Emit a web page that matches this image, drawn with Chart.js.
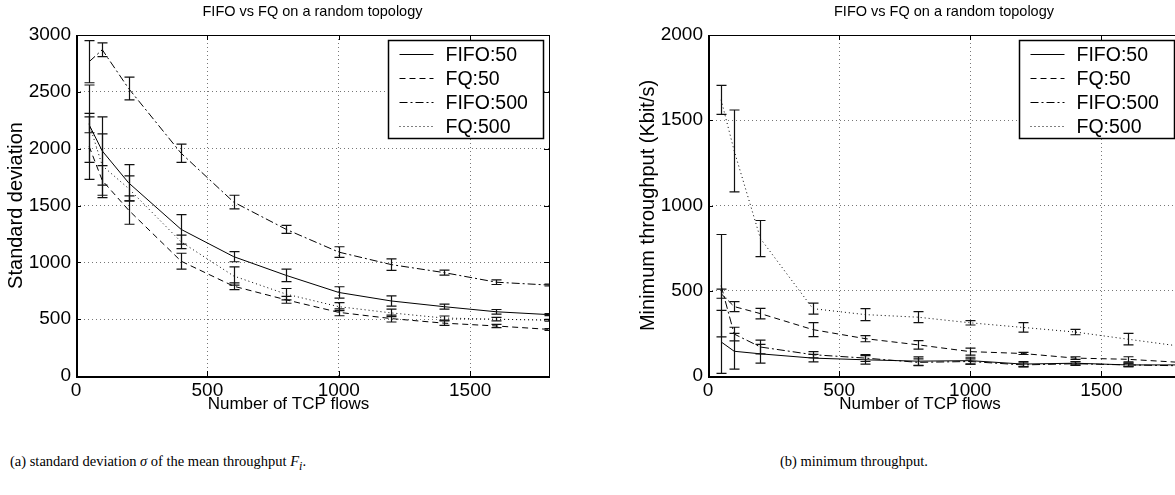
<!DOCTYPE html>
<html>
<head>
<meta charset="utf-8">
<script src="https://cdn.jsdelivr.net/npm/chart.js@4.4.0/dist/chart.umd.min.js"></script>
<style>
html, body { margin: 0; padding: 0; background: #fff; overflow: hidden; }
#wrap { position: relative; width: 1175px; height: 495px; overflow: hidden; }
#left { position: absolute; left: 0; top: 0; }
#right { position: absolute; left: 600px; top: 0; }
.cap { position: absolute; top: 453px; font-family: 'Liberation Serif', serif; font-size: 14.5px; color: #000; white-space: nowrap; }
</style>
</head>
<body>
<div id="wrap">
  <canvas id="left" width="580" height="420"></canvas>
  <canvas id="right" width="620" height="420"></canvas>
  <div class="cap" style="left:10px">(a) standard deviation <i>σ</i> of the mean throughput <i>F<sub>i</sub></i>.</div>
  <div class="cap" style="left:780px">(b) minimum throughput.</div>
</div>
<script>
// number of TCP flows where each run was measured
var flows = [50, 100, 200, 400, 600, 800, 1000, 1200, 1400, 1600, 1800];
var names = ['FIFO:50', 'FQ:50', 'FIFO:500', 'FQ:500'];
var xTicks = [0, 500, 1000, 1500];

// (a) standard deviation of mean throughput, +/- error half-width
var sdFifo50 = [2210, 1980, 1700, 1290, 1050, 885, 735, 660, 610, 565, 540];
var sdFifo50Err = [70, 300, 160, 130, 45, 55, 50, 45, 22, 20, 8];
var sdFq50 = [2020, 1720, 1460, 1010, 790, 670, 560, 505, 465, 440, 410];
var sdFq50Err = [290, 130, 125, 70, 30, 30, 30, 30, 20, 15, 8];
var sdFifo500 = [2765, 2870, 2530, 1960, 1530, 1290, 1090, 980, 910, 825, 800];
var sdFifo500Err = [185, 60, 100, 80, 60, 35, 47, 50, 22, 20, 8];
var sdFq500 = [2220, 1850, 1650, 1180, 880, 720, 610, 555, 510, 500, 490];
var sdFq500Err = [340, 280, 110, 60, 80, 50, 35, 33, 18, 15, 8];
var sdTicks = [0, 500, 1000, 1500, 2000, 2500, 3000];

// (b) minimum throughput in Kbit/s
var minFifo50 = [200, 145, 130, 105, 95, 87, 90, 70, 75, 65, 65];
var minFifo50Err = [185, 105, 55, 22, 25, 25, 20, 15, 10, 10, 5];
var minFq50 = [483, 407, 366, 272, 219, 183, 143, 132, 105, 98, 80];
var minFq50Err = [27, 29, 31, 41, 18, 25, 20, 6, 8, 15, 5];
var minFifo500 = [530, 246, 170, 125, 105, 80, 85, 65, 72, 65, 60];
var minFifo500Err = [300, 40, 40, 18, 20, 20, 15, 12, 10, 10, 5];
var minFq500 = [1620, 1320, 806, 395, 360, 345, 312, 285, 258, 216, 175];
var minFq500Err = [85, 240, 106, 32, 35, 32, 13, 28, 16, 34, 5];
var minTicks = [0, 500, 1000, 1500, 2000];

var dashes = [[], [6, 4], [8, 3, 2, 3], [1, 3]];

Chart.defaults.font.family = '"Liberation Sans", Arial, sans-serif';
Chart.defaults.color = '#000';

function points(vals) {
  return flows.map(function (f, i) { return { x: f, y: vals[i] }; });
}

function makeSets(series, errs) {
  return series.map(function (vals, k) {
    return {
      label: names[k],
      data: points(vals),
      errors: errs[k],
      borderColor: '#000',
      borderWidth: 1,
      borderDash: dashes[k],
      pointRadius: 0,
      tension: 0,
      fill: false
    };
  });
}

// vertical error bars with caps, drawn through the y scale
var errorBars = {
  id: 'errorBars',
  afterDraw: function (chart) {
    var ctx = chart.ctx, a = chart.chartArea, ys = chart.scales.y;
    ctx.save();
    ctx.beginPath();
    ctx.rect(a.left, a.top, a.right - a.left, a.bottom - a.top);
    ctx.clip();
    ctx.strokeStyle = '#111';
    ctx.lineWidth = 1.2;
    chart.data.datasets.forEach(function (ds, di) {
      var meta = chart.getDatasetMeta(di);
      meta.data.forEach(function (pt, i) {
        var v = ds.data[i].y, e = ds.errors[i];
        var x = Math.round(pt.x) + 0.5;
        var y1 = ys.getPixelForValue(v + e), y2 = ys.getPixelForValue(v - e);
        ctx.beginPath();
        ctx.moveTo(x, y1); ctx.lineTo(x, y2);
        ctx.moveTo(x - 5, y1); ctx.lineTo(x + 5, y1);
        ctx.moveTo(x - 5, y2); ctx.lineTo(x + 5, y2);
        ctx.stroke();
      });
    });
    ctx.restore();
  }
};

// box round the plot with inward tick marks
var frame = {
  id: 'frame',
  afterDraw: function (chart) {
    var ctx = chart.ctx, a = chart.chartArea;
    var xs = chart.scales.x, ys = chart.scales.y;
    ctx.save();
    ctx.strokeStyle = '#000';
    ctx.lineWidth = 1;
    ctx.strokeRect(a.left + 0.5, a.top + 0.5, a.right - a.left, a.bottom - a.top);
    ctx.beginPath();
    xs.ticks.forEach(function (t) {
      var x = Math.round(xs.getPixelForValue(t.value)) + 0.5;
      ctx.moveTo(x, a.bottom); ctx.lineTo(x, a.bottom - 5);
      ctx.moveTo(x, a.top); ctx.lineTo(x, a.top + 5);
    });
    ys.ticks.forEach(function (t) {
      var y = Math.round(ys.getPixelForValue(t.value)) + 0.5;
      ctx.moveTo(a.left, y); ctx.lineTo(a.left + 5, y);
      ctx.moveTo(a.right, y); ctx.lineTo(a.right - 5, y);
    });
    ctx.stroke();
    ctx.lineWidth = 2;
    ctx.beginPath();
    ctx.moveTo(a.left + 1, a.top); ctx.lineTo(a.left + 1, a.bottom + 1);
    ctx.lineTo(a.right + 1, a.bottom + 1);
    ctx.stroke();
    ctx.restore();
  }
};

// boxed legend in the upper right corner of the plot
var boxLegend = {
  id: 'boxLegend',
  afterDraw: function (chart) {
    var ctx = chart.ctx, a = chart.chartArea;
    var w = 155, h = 98, x0 = Math.round(a.right - 6 - w) + 0.5, y0 = Math.round(a.top + 5) + 0.5;
    ctx.save();
    ctx.fillStyle = '#fff';
    ctx.fillRect(x0, y0, w, h);
    ctx.strokeStyle = '#000';
    ctx.lineWidth = 1.5;
    ctx.strokeRect(x0, y0, w, h);
    ctx.font = '19.5px "Liberation Sans", Arial, sans-serif';
    ctx.textBaseline = 'middle';
    chart.data.datasets.forEach(function (ds, i) {
      var y = Math.round(y0 + 13 + i * 24) + 0.5;
      ctx.lineWidth = 1;
      ctx.setLineDash(ds.borderDash);
      ctx.beginPath();
      ctx.moveTo(x0 + 11, y); ctx.lineTo(x0 + 45, y);
      ctx.stroke();
      ctx.setLineDash([]);
      ctx.fillStyle = '#000';
      ctx.fillText(ds.label, x0 + 57, y + 1);
    });
    ctx.restore();
  }
};

// x axis caption, set a little left of centre as in the figure
var xLabel = {
  id: 'xLabel',
  afterDraw: function (chart, args, opts) {
    var ctx = chart.ctx, a = chart.chartArea;
    ctx.save();
    ctx.font = '17px "Liberation Sans", Arial, sans-serif';
    ctx.fillStyle = '#000';
    ctx.textAlign = 'center';
    ctx.textBaseline = 'middle';
    ctx.fillText(opts.text, (a.left + a.right) / 2 - 24, a.bottom + 28);
    ctx.restore();
  }
};

function plain(v) { return String(v); }

function makeChart(id, sets, yMax, yTicks, yTitle, axisWidth, titlePad, padRight) {
  return new Chart(document.getElementById(id), {
    type: 'line',
    data: { datasets: sets },
    options: {
      responsive: false,
      animation: false,
      devicePixelRatio: 1,
      events: [],
      layout: { padding: { left: 0, right: padRight, top: 0, bottom: 14 } },
      plugins: {
        legend: { display: false },
        tooltip: { enabled: false },
        title: {
          display: true,
          text: 'FIFO vs FQ on a random topology',
          fullSize: false,
          font: { size: 14.5, weight: 'normal' },
          padding: { top: 3, bottom: 14.6 }
        },
        xLabel: { text: 'Number of TCP flows' }
      },
      scales: {
        x: {
          type: 'linear',
          min: 0,
          max: 1800,
          afterBuildTicks: function (s) { s.ticks = xTicks.map(function (v) { return { value: v }; }); },
          afterFit: function (s) { s.height = 30; },
          ticks: { font: { size: 19 }, padding: 3, maxRotation: 0, callback: plain },
          grid: { color: '#777', lineWidth: 1, drawTicks: false },
          border: { display: false, dash: [1, 3] }
        },
        y: {
          min: 0,
          max: yMax,
          afterBuildTicks: function (s) { s.ticks = yTicks.map(function (v) { return { value: v }; }); },
          afterFit: function (s) { s.width = axisWidth; },
          ticks: { font: { size: 19 }, padding: 5, callback: plain },
          grid: { color: '#777', lineWidth: 1, drawTicks: false },
          border: { display: false, dash: [1, 3] },
          title: { display: true, text: yTitle, font: { size: 20 }, padding: { top: titlePad, bottom: 0 } }
        }
      }
    },
    plugins: [errorBars, frame, boxLegend, xLabel]
  });
}

makeChart('left',
  makeSets([sdFifo50, sdFq50, sdFifo500, sdFq500], [sdFifo50Err, sdFq50Err, sdFifo500Err, sdFq500Err]),
  3000, sdTicks, 'Standard deviation', 76, 4, 31);

makeChart('right',
  makeSets([minFifo50, minFq50, minFifo500, minFq500], [minFifo50Err, minFq50Err, minFifo500Err, minFq500Err]),
  2000, minTicks, 'Minimum throughput (Kbit/s)', 108, 36, 40);
</script>
</body>
</html>
